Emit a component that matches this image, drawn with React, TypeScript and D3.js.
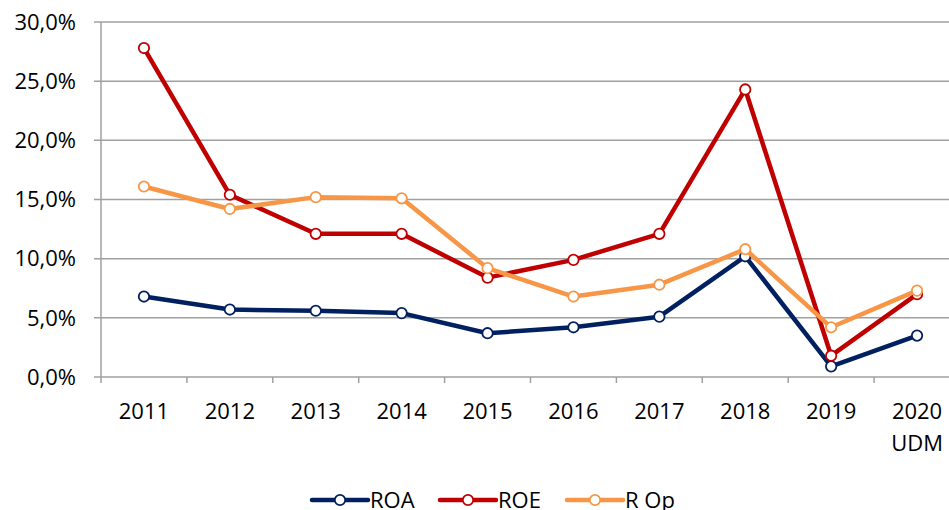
import { useEffect, useRef } from "react";
import * as d3 from "d3";

const years = ["2011", "2012", "2013", "2014", "2015", "2016", "2017", "2018", "2019", "2020"];
const yearSub = ["", "", "", "", "", "", "", "", "", "UDM"];
const roa = [6.8, 5.7, 5.6, 5.4, 3.7, 4.2, 5.1, 10.2, 0.9, 3.5];
const roe = [27.8, 15.4, 12.1, 12.1, 8.4, 9.9, 12.1, 24.3, 1.8, 7.0];
const rop = [16.1, 14.2, 15.2, 15.1, 9.2, 6.8, 7.8, 10.8, 4.2, 7.3];
const yTicks = [0, 5, 10, 15, 20, 25, 30];

const series = [
  { name: "ROA", values: roa, color: "#002060" },
  { name: "ROE", values: roe, color: "#C00000" },
  { name: "R Op", values: rop, color: "#F79646" },
];

const App = () => {
  const svgRef = useRef<SVGSVGElement>(null);

  useEffect(() => {
    const width = 949;
    const left = 101;
    const top = 22;
    const bottom = 377;
    const font = "'Open Sans', sans-serif";
    const fontSize = "22px";

    const svg = d3.select(svgRef.current);
    svg.selectAll("*").remove();

    const x = d3.scaleBand().domain(years).range([left, 960]);
    const y = d3.scaleLinear().domain([0, 30]).range([bottom, top]);

    // grid lines
    svg
      .append("g")
      .selectAll("line")
      .data(yTicks)
      .enter()
      .append("line")
      .attr("x1", left - 7)
      .attr("x2", width)
      .attr("y1", (d) => y(d))
      .attr("y2", (d) => y(d))
      .attr("stroke", "#A0A0A0")
      .attr("stroke-width", 1.5);

    // y axis line
    svg
      .append("line")
      .attr("x1", left)
      .attr("x2", left)
      .attr("y1", top)
      .attr("y2", bottom + 6)
      .attr("stroke", "#A0A0A0")
      .attr("stroke-width", 1.5);

    // x tick marks at band boundaries
    svg
      .append("g")
      .selectAll("line")
      .data(years.slice(1))
      .enter()
      .append("line")
      .attr("x1", (d) => x(d)!)
      .attr("x2", (d) => x(d)!)
      .attr("y1", bottom)
      .attr("y2", bottom + 6)
      .attr("stroke", "#A0A0A0")
      .attr("stroke-width", 1.5);

    // y labels
    svg
      .append("g")
      .selectAll("text")
      .data(yTicks)
      .enter()
      .append("text")
      .attr("x", 76)
      .attr("y", (d) => y(d))
      .attr("dy", "0.35em")
      .attr("text-anchor", "end")
      .style("font-family", font)
      .style("font-size", fontSize)
      .attr("fill", "#000")
      .text((d) => d3.format(".1f")(d).replace(".", ",") + "%");

    // x labels
    const xl = svg.append("g");
    xl.selectAll("text.yr")
      .data(years)
      .enter()
      .append("text")
      .attr("class", "yr")
      .attr("x", (d) => x(d)! + x.bandwidth() / 2)
      .attr("y", 411)
      .attr("dy", "0.35em")
      .attr("text-anchor", "middle")
      .style("font-family", font)
      .style("font-size", fontSize)
      .text((d) => d);
    xl.selectAll("text.sub")
      .data(years)
      .enter()
      .append("text")
      .attr("class", "sub")
      .attr("x", (d) => x(d)! + x.bandwidth() / 2)
      .attr("y", 443)
      .attr("dy", "0.35em")
      .attr("text-anchor", "middle")
      .style("font-family", font)
      .style("font-size", fontSize)
      .text((d, i) => yearSub[i]);

    const line = d3
      .line<number>()
      .x((d, i) => x(years[i])! + x.bandwidth() / 2)
      .y((d) => y(d));

    series.forEach((s) => {
      svg
        .append("path")
        .datum(s.values)
        .attr("fill", "none")
        .attr("stroke", s.color)
        .attr("stroke-width", 4.5)
        .attr("stroke-linejoin", "round")
        .attr("d", line);
      svg
        .append("g")
        .selectAll("circle")
        .data(s.values)
        .enter()
        .append("circle")
        .attr("cx", (d, i) => x(years[i])! + x.bandwidth() / 2)
        .attr("cy", (d) => y(d))
        .attr("r", 5.2)
        .attr("fill", "#fff")
        .attr("stroke", s.color)
        .attr("stroke-width", 1.8);
    });

    // legend
    const legendX = [312, 440, 567];
    const ly = 500;
    const legend = svg.append("g");
    series.forEach((s, i) => {
      const lx = legendX[i];
      legend
        .append("line")
        .attr("x1", lx)
        .attr("x2", lx + 56)
        .attr("y1", ly)
        .attr("y2", ly)
        .attr("stroke", s.color)
        .attr("stroke-width", 4.5)
        .attr("stroke-linecap", "round");
      legend
        .append("circle")
        .attr("cx", lx + 28)
        .attr("cy", ly)
        .attr("r", 5.2)
        .attr("fill", "#fff")
        .attr("stroke", s.color)
        .attr("stroke-width", 1.8);
      legend
        .append("text")
        .attr("x", lx + 58)
        .attr("y", ly)
        .attr("dy", "0.35em")
        .style("font-family", font)
        .style("font-size", fontSize)
        .text(s.name);
    });
  }, []);

  return (
    <svg
      ref={svgRef}
      width={949}
      height={510}
      style={{ position: "absolute", left: 0, top: 0, background: "#fff" }}
    ></svg>
  );
};

export default App;
